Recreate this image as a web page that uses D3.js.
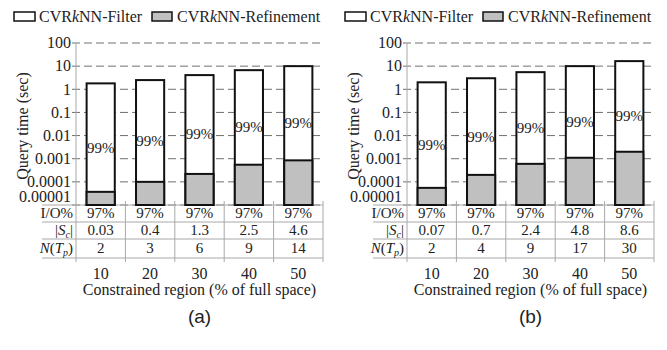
<!DOCTYPE html>
<html>
<head>
<meta charset="utf-8">
<script src="https://cdn.jsdelivr.net/npm/d3@7"></script>
<style>
  body { margin: 0; background: #fff; }
</style>
</head>
<body>
<svg id="chart" width="667" height="350"></svg>
<script>
const width = 667;
const height = 350;

// constrained region (% of full space)
const regions = ["10", "20", "30", "40", "50"];
const yTicks = [100, 10, 1, 0.1, 0.01, 0.001, 0.0001, 0.00001];
const yTickLabels = ["100", "10", "1", "0.1", "0.01", "0.001", "0.0001", "0.00001"];

// panel (a)
const filterA = [1.8, 2.5, 4.1, 6.7, 10];
const refineA = [0.000037, 0.0001, 0.00022, 0.00055, 0.00085];
const shareA = ["99%", "99%", "99%", "99%", "99%"];
const ioA = ["97%", "97%", "97%", "97%", "97%"];
const scA = ["0.03", "0.4", "1.3", "2.5", "4.6"];
const ntpA = ["2", "3", "6", "9", "14"];

// panel (b)
const filterB = [2.0, 3.0, 5.5, 10, 16.5];
const refineB = [0.000055, 0.0002, 0.0006, 0.0011, 0.002];
const shareB = ["99%", "99%", "99%", "99%", "99%"];
const ioB = ["97%", "97%", "97%", "97%", "97%"];
const scB = ["0.07", "0.7", "2.4", "4.8", "8.6"];
const ntpB = ["2", "4", "9", "17", "30"];

const svg = d3.select("#chart").attr("font-family", "Liberation Serif");
svg.append("rect").attr("width", width).attr("height", height).attr("fill", "#fff");

drawPanel(0, "(a)", filterA, refineA, shareA, ioA, scA, ntpA);
drawPanel(331, "(b)", filterB, refineB, shareB, ioB, scB, ntpB);

function drawPanel(x0, tag, filter, refine, share, io, sc, ntp) {
  const g = svg.append("g").attr("transform", `translate(${x0},0)`).attr("fill", "#222");
  const plotL = 76, plotR = 323, plotT = 43, plotB = 205;
  const tableL = 42, tableB = 262;
  const rowLines = [222, 239, 258];
  const rowBase = [218, 235, 253];

  const x = d3.scaleBand().domain(regions).range([plotL, plotR]);
  const y = d3.scaleLog().domain([0.00001, 100]).range([plotB, plotT]);
  const barW = x.bandwidth() * 0.57;

  // legend
  const leg = g.append("g").attr("transform", "translate(14,12)");
  leg.append("rect").attr("x", 0).attr("y", 0).attr("width", 21).attr("height", 9)
    .attr("fill", "#fff").attr("stroke", "#111").attr("stroke-width", 1.5);
  const t1 = leg.append("text").attr("x", 25).attr("y", 9.5).attr("font-size", 16);
  t1.append("tspan").text("CVR");
  t1.append("tspan").attr("font-style", "italic").text("k");
  t1.append("tspan").text("NN-Filter");
  leg.append("rect").attr("x", 138).attr("y", 0).attr("width", 20).attr("height", 9)
    .attr("fill", "#c0c0c0").attr("stroke", "#111").attr("stroke-width", 1.5);
  const t2 = leg.append("text").attr("x", 163).attr("y", 9.5).attr("font-size", 16);
  t2.append("tspan").text("CVR");
  t2.append("tspan").attr("font-style", "italic").text("k");
  t2.append("tspan").text("NN-Refinement");

  // gridlines
  g.append("g").selectAll("line").data(yTicks).join("line")
    .attr("x1", plotL - 4).attr("x2", plotR)
    .attr("y1", d => y(d)).attr("y2", d => y(d))
    .attr("stroke", "#707070").attr("stroke-width", 1)
    .attr("stroke-dasharray", "8,4");

  // y tick labels (lowest one lifted off the table, as in the original)
  g.append("g").selectAll("text").data(yTicks).join("text")
    .attr("x", plotL - 5)
    .attr("y", (d, i) => y(d) + (i === yTicks.length - 1 ? -8 : 0))
    .attr("dy", "0.33em")
    .attr("text-anchor", "end")
    .attr("font-size", 16)
    .text((d, i) => yTickLabels[i]);

  g.append("text")
    .attr("transform", `translate(28,${(plotT + plotB) / 2 + 2}) rotate(-90)`)
    .attr("text-anchor", "middle")
    .attr("font-size", 16)
    .text("Query time (sec)");

  // table lines
  const grid = g.append("g").attr("stroke", "#a8a8a8").attr("stroke-width", 1);
  grid.selectAll("line.h").data([plotB].concat(rowLines)).join("line")
    .attr("class", "h")
    .attr("x1", tableL).attr("x2", plotR)
    .attr("y1", d => d).attr("y2", d => d);
  grid.selectAll("line.v").data(regions.map(r => x(r) + x.bandwidth()).concat([plotL])).join("line")
    .attr("class", "v")
    .attr("x1", d => d).attr("x2", d => d)
    .attr("y1", d => d === plotL ? plotT : plotB - 4).attr("y2", tableB);

  // bars: filter stacked on top of refinement
  const bars = g.append("g").selectAll("g").data(regions).join("g");
  bars.append("rect")
    .attr("x", d => x(d) + (x.bandwidth() - barW) / 2)
    .attr("width", barW)
    .attr("y", (d, i) => y(filter[i] + refine[i]))
    .attr("height", (d, i) => plotB - y(filter[i] + refine[i]))
    .attr("fill", "#fff").attr("stroke", "#111").attr("stroke-width", 2);
  bars.append("rect")
    .attr("x", d => x(d) + (x.bandwidth() - barW) / 2)
    .attr("width", barW)
    .attr("y", (d, i) => y(refine[i]))
    .attr("height", (d, i) => plotB - y(refine[i]))
    .attr("fill", "#c0c0c0").attr("stroke", "#111").attr("stroke-width", 2);
  bars.append("text")
    .attr("x", d => x(d) + x.bandwidth() / 2)
    .attr("y", (d, i) => y(Math.sqrt(refine[i] * (filter[i] + refine[i]))) + 10)
    .attr("dy", "0.33em")
    .attr("text-anchor", "middle")
    .attr("font-size", 15)
    .text((d, i) => share[i]);

  // table rows
  const rows = [io, sc, ntp];
  rows.forEach((vals, r) => {
    g.append("g").selectAll("text").data(regions).join("text")
      .attr("x", d => x(d) + x.bandwidth() / 2)
      .attr("y", rowBase[r])
      .attr("text-anchor", "middle")
      .attr("font-size", 15)
      .text((d, i) => vals[i]);
  });

  const lab = g.append("g").attr("text-anchor", "end").attr("font-size", 15);
  lab.append("text").attr("x", plotL - 3).attr("y", rowBase[0]).text("I/O%");
  const s = lab.append("text").attr("x", plotL - 3).attr("y", rowBase[1]);
  s.append("tspan").text("|");
  s.append("tspan").attr("font-style", "italic").text("S");
  s.append("tspan").attr("font-style", "italic").attr("font-size", 10).attr("dy", 3).text("c");
  s.append("tspan").attr("dy", -3).text("|");
  const n = lab.append("text").attr("x", plotL - 3).attr("y", rowBase[2]);
  n.append("tspan").attr("font-style", "italic").text("N");
  n.append("tspan").text("(");
  n.append("tspan").attr("font-style", "italic").text("T");
  n.append("tspan").attr("font-style", "italic").attr("font-size", 10).attr("dy", 3).text("p");
  n.append("tspan").attr("dy", -3).text(")");

  // x axis labels
  g.append("g").selectAll("text").data(regions).join("text")
    .attr("x", d => x(d) + x.bandwidth() / 2)
    .attr("y", 279)
    .attr("text-anchor", "middle")
    .attr("font-size", 16)
    .text(d => d);

  g.append("text")
    .attr("x", (plotL + plotR) / 2).attr("y", 295)
    .attr("text-anchor", "middle")
    .attr("font-size", 16)
    .text("Constrained region (% of full space)");

  g.append("text")
    .attr("x", (plotL + plotR) / 2).attr("y", 323)
    .attr("text-anchor", "middle")
    .attr("font-family", "Liberation Sans")
    .attr("font-size", 19)
    .text(tag);
}
</script>
</body>
</html>
